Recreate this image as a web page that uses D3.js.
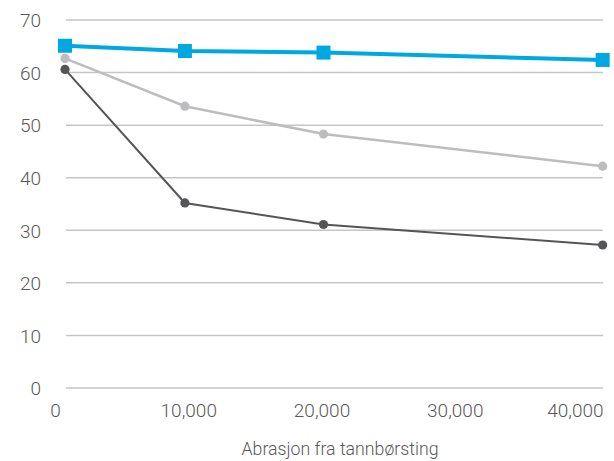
<!DOCTYPE html>
<html>
<head>
<meta charset="utf-8">
<script src="https://cdn.jsdelivr.net/npm/d3@7"></script>
<style>
  body { margin: 0; background: #fff; }
  svg text { font-family: Roboto, "Liberation Sans", sans-serif; font-weight: 300; fill: #595959; }
</style>
</head>
<body>
<div id="chart"></div>
<script>
// data
const xValues = [750, 9750, 20150, 41100];
const blueValues = [65.1, 64.1, 63.8, 62.4];
const lightValues = [62.7, 53.6, 48.3, 42.2];
const darkValues = [60.6, 35.2, 31.1, 27.2];
const xTicks = [0, 10000, 20000, 30000, 40000];
const yTicks = [0, 10, 20, 30, 40, 50, 60, 70];
const xTitle = "Abrasjon fra tannbørsting";

const width = 614, height = 461;

const x = d3.scaleLinear().domain([0, 40000]).range([55, 588]);
const y = d3.scaleLinear().domain([0, 70]).range([388, 20]);

const svg = d3.select("#chart")
    .append("svg")
    .attr("width", width)
    .attr("height", height);

// horizontal gridlines
svg.append("g")
    .selectAll("line")
    .data(yTicks)
    .join("line")
    .attr("x1", 66)
    .attr("x2", 603)
    .attr("y1", d => y(d))
    .attr("y2", d => y(d))
    .style("stroke", "#c6c6c6")
    .style("stroke-width", 1.5);

// y axis labels
const yAxis = svg.append("g")
    .attr("transform", "translate(41,0)")
    .call(d3.axisLeft(y).tickValues(yTicks).tickSize(0).tickPadding(0));
yAxis.select(".domain").remove();
yAxis.selectAll("text").attr("font-size", 19).attr("dy", "0.36em");

// x axis labels
const xAxis = svg.append("g")
    .attr("transform", "translate(0,403)")
    .call(d3.axisBottom(x).tickValues(xTicks).tickSize(0).tickPadding(0)
        .tickFormat(d3.format(",")));
xAxis.select(".domain").remove();
xAxis.selectAll("text").attr("font-size", 19).attr("dy", "0.75em");
// last label is pulled inside the frame, as in the original
xAxis.selectAll(".tick").filter(d => d === 40000).select("text")
    .attr("text-anchor", "end")
    .attr("x", 15);

svg.append("text")
    .attr("x", 340)
    .attr("y", 455)
    .attr("text-anchor", "middle")
    .attr("font-size", 19)
    .attr("textLength", 197)
    .attr("lengthAdjust", "spacingAndGlyphs")
    .text(xTitle);

function drawSeries(values, color, lineWidth, marker, size) {
    const pts = values.map((v, i) => [xValues[i], v]);
    svg.append("path")
        .datum(pts)
        .style("fill", "none")
        .style("stroke", color)
        .style("stroke-width", lineWidth)
        .attr("d", d3.line().x(d => x(d[0])).y(d => y(d[1])));
    if (marker === "square") {
        svg.append("g").selectAll("rect")
            .data(pts)
            .join("rect")
            .attr("x", d => x(d[0]) - size / 2)
            .attr("y", d => y(d[1]) - size / 2)
            .attr("width", size)
            .attr("height", size)
            .style("fill", color);
    } else {
        svg.append("g").selectAll("circle")
            .data(pts)
            .join("circle")
            .attr("cx", d => x(d[0]))
            .attr("cy", d => y(d[1]))
            .attr("r", size)
            .style("fill", color);
    }
}

drawSeries(lightValues, "#bdbdbf", 2.5, "circle", 4.6);
drawSeries(darkValues, "#555558", 2, "circle", 4.6);
drawSeries(blueValues, "#00a8e1", 4, "square", 14);
</script>
</body>
</html>
